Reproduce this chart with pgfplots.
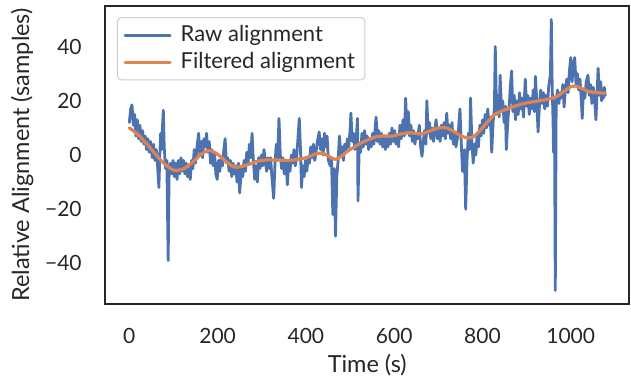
\documentclass[border=0pt]{standalone}
\usepackage{fontspec}
\setmainfont{Lato}
\usepackage{pgfplots}
\pgfplotsset{compat=1.18}
\usepackage{pgfplotstable}
\definecolor{sbblue}{HTML}{4C72B0}
\definecolor{sborange}{HTML}{DD8452}
\definecolor{axisgray}{HTML}{262626}
\definecolor{legendgray}{HTML}{CCCCCC}

\pgfplotstableread{
t v
0 12
3 17
6 18.5
9 11
12 15
15 7
18 13
21 6
24 11
27 5
30 9
33 4
36 7
39 2
42 6
45 1
48 5
52 -1
55 4
58 -2
61 2
64 -4
67 -12
69 0
71 8
73 2
75 10
77 16.5
79 3
82 -5
85 -2
88 -39
90 -8
93 -3
96 -7
99 -2
102 -8
105 -3
108 -9
111 -2
114 -7
117 -1
120 -6
123 -2
126 -7
129 -3
132 -8
135 -5
138 -9
141 -2
144 -5
147 2
150 -3
154 4
157 8
160 0
163 5
166 -1
169 6
172 3
175 8
178 1
181 5
184 -3
187 2
190 -4
193 1
196 -7
199 -9
202 -2
205 -6
208 -1
211 -4
214 2
217 6
220 -3
223 -1
226 -6
229 -2
232 -8
235 -3
238 -7
241 -4
244 -10
247 -3
250 -14
254 -5
257 -8
260 -2
263 -6
266 1
269 -3
272 4
275 -1
278 8
281 -2
284 -9
287 -4
290 -10
293 -1
296 -5
299 0
302 -4
305 2
308 -2
311 -6
314 -1
317 -5
320 -1
323 -8
327 -16
330 -3
333 4
336 -2
339 13.5
342 0
345 -5
348 -1
351 -7
355 -2
358 -11
361 -3
364 -6
367 0
370 -3
373 2
376 -4
379 -1
382 6
385 13.5
388 1
390 -12
393 -4
396 -8
399 -2
402 -6
405 -1
408 -3
411 3
414 -1
417 4
420 -2
423 1
426 5
430 8.5
433 2
436 6
439 0
442 8
445 3
448 7
451 -2
455 -4
458 -1
461 -22
464 -5
467 -30
470 -8
473 -2
476 7
479 0
482 3
485 -2
488 4
491 1
494 6
497 3
500 9
502 15.5
505 5
508 8
511 2
514 6
517 13.5
518 -17
521 4
524 1
527 8
530 3
533 9
536 4
539 7
542 2
545 6
548 3
551 8
554 4
559 14
562 5
565 9
568 4
571 8
574 3
577 7
580 2
583 6
586 3
589 8
592 4
595 10
598 5
601 9
604 4
607 7
610 3
613 11
616 6
620 13
623 7
626 21
629 9
632 16
635 7
638 11
641 5
644 9
647 4
650 8
653 6
657 11
660 3
663 -0.5
666 5
669 9
672 4
674 20
677 8
680 12
683 6
686 10
689 5
692 9
695 13
698 6
701 10
704 5
707 11
710 7
713 12
716 6
719 15.5
722 8
725 11
728 6
731 12
734 4
737 8
740 3
743 6
746 10
749 17
752 4
755 -6
759 2
762 -20
765 -2
768 8
771 2
773 21
776 5
779 -3
782 4
785 0
788 8
791 3
794 11
797 7
800 13
803 8
806 15
809 10
812 17
815 11
818 14
821 1
824 12
827 17
829 40
832 15
835 22
838 14
840 29.5
843 17
846 20
849 12
852 18
854 2
858 14
861 19
863 25
866 31
869 16
872 22
875 13
878 20
881 15
884 23
887 17
890 21
893 14
897 28
900 18
903 22
906 15
909 21
912 17
915 24
918 16
920 29
923 20
926 8.5
929 18
932 24
935 19
938 23
941 17
944 22
947 18
950 25
954 30
956 50
958 25
960 12
961 1
963 20
965 -50
967 20
970 24
973 19
976 23
979 21
982 26
985 17.7
988 25
991 28
994 23
997 31
1000 36
1003 27
1006 33
1009 36
1012 26
1015 30
1018 24
1021 28
1024 20
1026 13.5
1029 24
1032 21
1035 27
1039 29.5
1042 22
1045 26
1048 19
1051 25
1054 21
1057 13
1060 24
1062 32
1065 22
1068 27
1070 20
1072 24
1074 21
1076 25
1078 22
}\rawdata

\pgfplotstableread{
t v
0 10
20 7.5
40 4
61 0
81 -3.5
101 -5.6
121 -5.2
141 -3
162 0.2
177 1.6
187 1.5
202 0
222 -2.8
237 -4.4
253 -4.3
273 -3.3
293 -2.2
313 -1.8
343 -1.9
364 -2.0
384 -1.6
404 -0.8
424 0.5
439 0.6
455 -0.8
467 -1.6
480 -0.5
495 1.5
515 3.5
535 5.2
561 6.8
581 7
596 7
616 7.8
636 8.2
662 7.8
682 9
702 10
717 10
732 9
752 7
768 6.3
780 6.8
793 8.8
808 11.5
828 15
848 16.5
869 17.8
889 18.8
909 19.5
929 20
949 20.6
968 21.6
985 23.5
1000 25.2
1010 25.5
1025 24.6
1040 23.5
1061 23
1078 22.8
}\filtdata

\begin{document}
\begin{tikzpicture}
\begin{axis}[
  name=ax, at={(0,0)}, anchor=south west,
  scale only axis, width=261.75pt, height=149pt,
  xmin=-54, xmax=1132, ymin=-55, ymax=55,
  axis line style={draw=axisgray, line width=1pt},
  xtick={0,200,400,600,800,1000},
  xticklabels={0,200,400,600,800,1000},
  ytick={-40,-20,0,20,40},
  yticklabels={−40,−20,0,20,40},
  major tick length=0pt,
  tick label style={font=\fontsize{10.5}{12}\selectfont, text=axisgray},
  xticklabel style={yshift=-8.7pt},
  yticklabel style={xshift=-8.4pt},
  xlabel={Time (s)},
  ylabel={Relative Alignment (samples)},
  every axis x label/.style={at={(axis description cs:0.5,-0.2282)}, anchor=base,
    font=\fontsize{11.75}{14}\selectfont, text=axisgray},
  every axis y label/.style={at={(axis description cs:-0.1461,0.5)}, rotate=90, anchor=base,
    font=\fontsize{11.75}{14}\selectfont, text=axisgray},
  legend cell align=left,
  legend style={at={(axis description cs:0,1)}, anchor=north west,
    xshift=5.75pt, yshift=-5.5pt, draw=legendgray, line width=0.5pt,
    rounded corners=2pt, fill=white, fill opacity=0.8, text opacity=1,
    font=\fontsize{11}{13}\selectfont, text=axisgray},
  legend image code/.code={\draw[#1] (0pt,0pt) -- (22.5pt,0pt); \path (25pt,0pt);},
]
\addplot[sbblue, line width=1.4pt, line join=round, line cap=round] table[x=t,y=v] {\rawdata};
\addlegendentry{Raw alignment}
\addplot[sborange, line width=1.6pt, smooth, line cap=round] table[x=t,y=v] {\filtdata};
\addlegendentry{Filtered alignment}
\end{axis}
\pgfresetboundingbox
\path[use as bounding box] (-52.75pt,-38.5pt) rectangle (262.75pt,152pt);
\end{tikzpicture}
\end{document}
